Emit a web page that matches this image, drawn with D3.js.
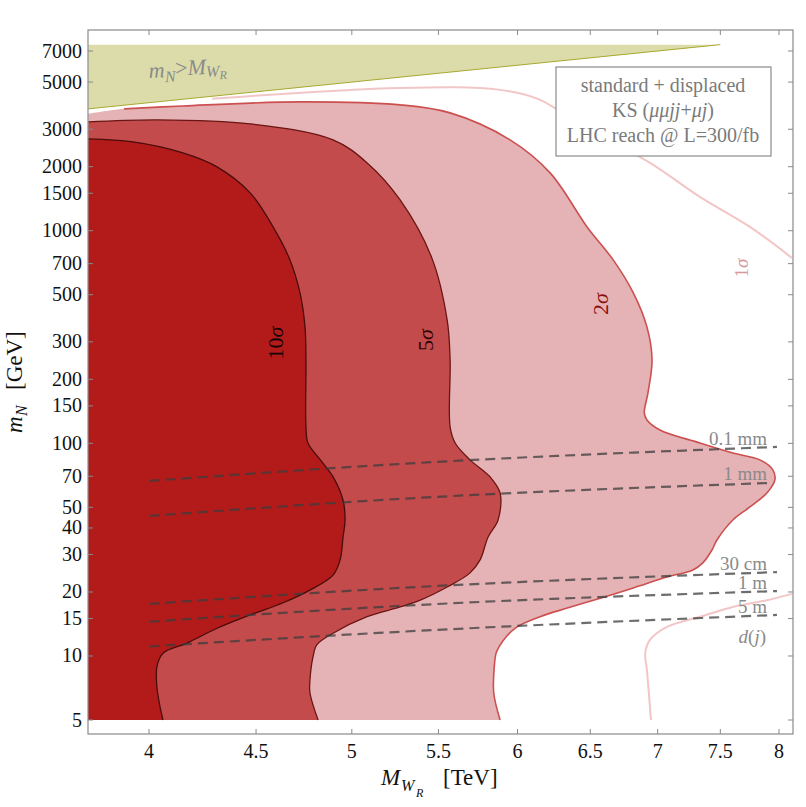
<!DOCTYPE html>
<html><head><meta charset="utf-8">
<script src="https://d3js.org/d3.v7.min.js"></script>
<style>body{margin:0;background:#fff}svg{display:block}text{font-family:"Liberation Serif","DejaVu Serif",serif}</style>
</head><body>
<script>
// ---------- data ----------
const xTicks = [4, 4.5, 5, 5.5, 6, 6.5, 7, 7.5, 8];
const yTicks = [5, 10, 15, 20, 30, 40, 50, 70, 100, 150, 200, 300, 500, 700, 1000, 1500, 2000, 3000, 5000, 7000];

// contour boundaries [M_WR (TeV), m_N (GeV)]
const sigma10 = [[3.741,2703],[3.930,2617],[4.152,2323],[4.311,1996],[4.471,1506],[4.585,1042],[4.671,729],[4.723,510],[4.749,353],[4.754,247],[4.754,120],[4.765,100],[4.828,84],[4.898,69.5],[4.952,54],[4.963,43.6],[4.952,36.3],[4.936,28.3],[4.898,24.0],[4.775,20.4],[4.636,17.8],[4.471,15.6],[4.311,13.5],[4.171,11.5],[4.062,10.3],[4.035,8.9],[4.035,7.15],[4.049,5.76],[4.062,5]];
const sigma5 = [[3.741,3249],[4.035,3320],[4.471,3180],[4.898,2674],[5.085,2084],[5.273,1396],[5.46,745],[5.553,381],[5.571,247],[5.571,119.5],[5.602,100.4],[5.695,83.6],[5.822,69.5],[5.886,58.4],[5.873,43.6],[5.809,36.3],[5.758,28.3],[5.695,24.6],[5.553,21.1],[5.391,18.3],[5.273,17.0],[5.085,15.3],[4.898,12.8],[4.812,11.3],[4.791,9.9],[4.775,7.7],[4.775,6.7],[4.818,5]];
const sigma2 = [[3.741,3543],[3.892,3741],[4.152,3860],[4.723,4036],[5.273,3907],[5.571,3582],[5.951,2674],[6.219,1870],[6.477,1042],[6.666,729],[6.815,510],[6.918,353],[6.957,247],[6.926,172.6],[6.898,139],[6.918,128.9],[7.018,115.6],[7.333,100.4],[7.604,90.1],[7.834,83.6],[7.946,75.0],[7.964,67.3],[7.894,58.4],[7.748,50.2],[7.604,43.6],[7.472,35.1],[7.431,31.5],[7.357,27.4],[7.277,25.4],[7.072,23.5],[6.815,20.9],[6.572,18.7],[6.337,16.8],[6.151,15.3],[5.990,13.6],[5.905,11.8],[5.862,10.4],[5.848,8.8],[5.845,6.7],[5.886,5]];
const sigma1Upper = [[4.287,4169],[5.273,4695],[5.886,4595],[6.151,4124],[6.449,3078],[6.941,2084],[7.333,1442],[7.748,1042],[8.114,745]];
const sigma1Lower = [[6.949,5],[6.918,8.6],[6.905,10.3],[6.941,11.9],[7.072,13.7],[7.333,15.3],[7.604,17.0],[7.894,18.3],[8.114,19.6]];

// decay-length contours
const decayLabels = ["0.1 mm", "1 mm", "30 cm", "1 m", "5 m"];
const decay01mm = [[4.004,66.6],[5.273,80.0],[7.982,96.2]];
const decay1mm  = [[4.004,45.6],[5.273,54.8],[7.92,65.1]];
const decay30cm = [[4.004,17.6],[5.273,20.9],[7.982,24.8]];
const decay1m   = [[4.004,14.5],[5.273,17.2],[7.982,20.2]];
const decay5m   = [[4.004,11.1],[5.273,13.0],[7.982,15.6]];

// kinematic bound m_N > M_WR
const kinBound = [[3.741,3741],[7.5,7500]];
const kinTop = 7500;

// ---------- layout ----------
const W = 806, H = 807;
const L = 88, R = 793, T = 30, B = 734;
const x = d3.scaleLog().domain([4, 8]).range([149, 779]);
const y = d3.scaleLog().domain([5, 7000]).range([720, 51]);
const xL = x.invert(L);

const svg = d3.select("body").append("svg").attr("width", W).attr("height", H);
svg.append("defs").append("clipPath").attr("id","clip").append("rect")
  .attr("x", L).attr("y", T).attr("width", R-L).attr("height", B-T);
const plot = svg.append("g").attr("clip-path","url(#clip)");

const smooth = d3.line().x(d=>x(d[0])).y(d=>y(d[1])).curve(d3.curveCatmullRom.alpha(0.5));
const straight = d3.line().x(d=>x(d[0])).y(d=>y(d[1]));

function region(pts, fill){
  const d = smooth(pts) + "L" + x(xL) + "," + y(5) + "Z";
  plot.append("path").attr("d", d).attr("fill", fill).attr("stroke","none");
}
// yellow kinematic region
plot.append("path")
  .attr("d", straight([kinBound[0], kinBound[1], [kinBound[0][0], kinTop]]) + "Z")
  .attr("fill", "#dcdcaa");
plot.append("path").attr("d", straight(kinBound)).attr("stroke","#a8a830").attr("stroke-width",1).attr("fill","none");

// 1 sigma lines
[sigma1Upper, sigma1Lower].forEach(p=>{
  plot.append("path").attr("d", smooth(p)).attr("fill","none").attr("stroke","#f2c6c6").attr("stroke-width",2);
});

region(sigma2, "#e5b3b5");
region(sigma5, "#c44b4b");
region(sigma10, "#b31b1b");

plot.append("path").attr("d", smooth(sigma2.slice(1))).attr("fill","none").attr("stroke","#cc5050").attr("stroke-width",1.6);
plot.append("path").attr("d", smooth(sigma5)).attr("fill","none").attr("stroke","#6a1414").attr("stroke-width",1.3);
plot.append("path").attr("d", smooth(sigma10)).attr("fill","none").attr("stroke","#4a0b0b").attr("stroke-width",1.3);

// decay lines
const decays = [decay01mm, decay1mm, decay30cm, decay1m, decay5m];
const dl = d3.line().x(d=>x(d[0])).y(d=>y(d[1])).curve(d3.curveMonotoneX);
decays.forEach(p=>{
  plot.append("path").attr("d", dl(p)).attr("fill","none")
    .attr("stroke","#3c3c3c").attr("stroke-opacity",0.75).attr("stroke-width",2.2)
    .attr("stroke-dasharray","10,6");
});
const decayBase = [445, 480, 570, 589, 613];
decayLabels.forEach((t,i)=>{
  svg.append("text").attr("x",767).attr("y",decayBase[i]).attr("text-anchor","end")
    .attr("font-size",19).attr("fill","#8a8a8a").text(t);
});
const dj = svg.append("text").attr("x",766).attr("y",643).attr("text-anchor","end")
  .attr("font-size",19).attr("fill","#8a8a8a").attr("font-style","italic");
dj.append("tspan").text("d");
dj.append("tspan").attr("font-style","normal").text("(");
dj.append("tspan").text("j");
dj.append("tspan").attr("font-style","normal").text(")");

// sigma labels
function vlabel(tx, ty, num, color, size){
  const t = svg.append("text").attr("transform",`translate(${tx},${ty}) rotate(-90)`)
    .attr("text-anchor","middle").attr("font-size",size).attr("fill",color);
  t.append("tspan").text(num);
  t.append("tspan").attr("font-style","italic").text("σ");
}
vlabel(283, 343, "10", "#160404", 22);
vlabel(433, 340, "5", "#2e0606", 22);
vlabel(608, 304, "2", "#8a1010", 22);
vlabel(748, 268, "1", "#d49a9a", 19);

// yellow label
const yl = svg.append("text").attr("transform","translate(149,78) rotate(-3)")
  .attr("font-size",22).attr("fill","#8a8a8a").attr("font-style","italic");
yl.append("tspan").text("m");
yl.append("tspan").attr("font-size",16).attr("dy",5).text("N");
yl.append("tspan").attr("font-style","normal").attr("dy",-6).text(">");
yl.append("tspan").text("M");
yl.append("tspan").attr("font-size",16).attr("dy",3).text("W");
yl.append("tspan").attr("font-size",12).attr("dy",3).text("R");

// legend box
svg.append("rect").attr("x",556).attr("y",67).attr("width",215).attr("height",89)
  .attr("fill","#fff").attr("stroke","#8a8a8a").attr("stroke-width",1.2);
const lg = svg.append("g").attr("font-size",20).attr("fill","#7a7a7a").attr("text-anchor","middle");
lg.append("text").attr("x",663).attr("y",92).text("standard + displaced");
const ks = lg.append("text").attr("x",663).attr("y",117);
ks.append("tspan").text("KS (");
ks.append("tspan").attr("font-style","italic").text("μμjj");
ks.append("tspan").text("+");
ks.append("tspan").attr("font-style","italic").text("μj");
ks.append("tspan").text(")");
lg.append("text").attr("x",663).attr("y",142).text("LHC reach @ L=300/fb");

// frame & ticks
const fc = "#8a8a8a";
svg.append("rect").attr("x",L).attr("y",T).attr("width",R-L).attr("height",B-T)
  .attr("fill","none").attr("stroke",fc).attr("stroke-width",1.2);
xTicks.forEach(v=>{
  const px = x(v);
  svg.append("line").attr("x1",px).attr("x2",px).attr("y1",B).attr("y2",B-5).attr("stroke",fc);
  svg.append("line").attr("x1",px).attr("x2",px).attr("y1",T).attr("y2",T+5).attr("stroke",fc);
  svg.append("text").attr("x",px).attr("y",758).attr("text-anchor","middle").attr("font-size",20).attr("fill","#111").text(v);
});
yTicks.forEach(v=>{
  const py = y(v);
  svg.append("line").attr("x1",L).attr("x2",L+5).attr("y1",py).attr("y2",py).attr("stroke",fc);
  svg.append("line").attr("x1",R).attr("x2",R-5).attr("y1",py).attr("y2",py).attr("stroke",fc);
  svg.append("text").attr("x",82).attr("y",py+6.5).attr("text-anchor","end").attr("font-size",20).attr("fill","#111").text(v);
});

// axis titles
const xt = svg.append("g").attr("fill","#111");
xt.append("text").attr("x",381).attr("y",785).attr("font-size",23).attr("font-style","italic").text("M");
xt.append("text").attr("x",401).attr("y",791).attr("font-size",16).attr("font-style","italic").text("W");
xt.append("text").attr("x",416).attr("y",797).attr("font-size",12).attr("font-style","italic").text("R");
xt.append("text").attr("x",443).attr("y",785).attr("font-size",23).text("[TeV]");

const yt = svg.append("g").attr("transform","translate(22,433) rotate(-90)").attr("fill","#111");
yt.append("text").attr("x",0).attr("y",0).attr("font-size",23).attr("font-style","italic").text("m");
yt.append("text").attr("x",17).attr("y",5).attr("font-size",16).attr("font-style","italic").text("N");
yt.append("text").attr("x",43).attr("y",0).attr("font-size",23).text("[GeV]");
</script>
</body></html>
